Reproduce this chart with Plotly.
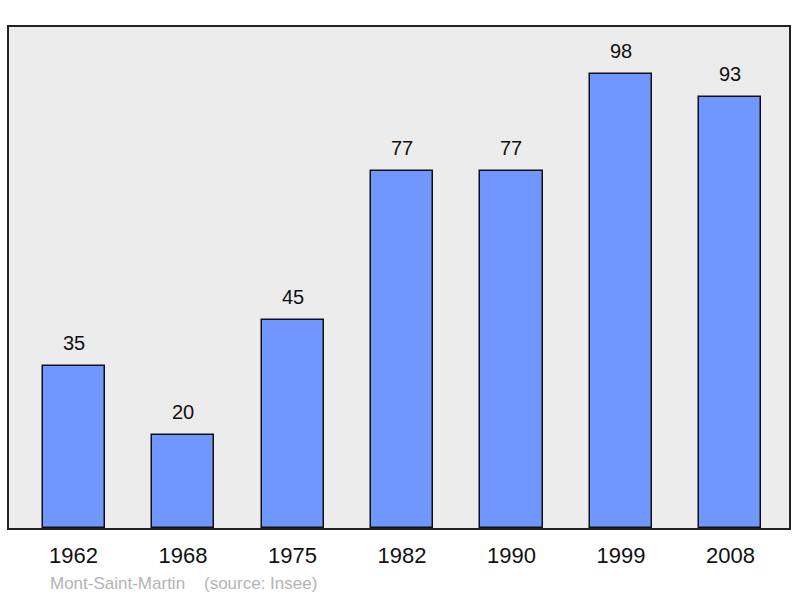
import plotly.graph_objects as go

years = ["1962", "1968", "1975", "1982", "1990", "1999", "2008"]
population = [35, 20, 45, 77, 77, 98, 93]
footer_text = "Mont-Saint-Martin\u00a0\u00a0\u00a0\u00a0(source: Insee)"

FONT = "Liberation Sans, Arial"

fig = go.Figure()
fig.add_trace(go.Bar(
    x=years, y=population, width=0.567,
    marker=dict(color="#7097ff", line=dict(color="#111111", width=1.5)),
    hoverinfo="skip",
))
for i, v in enumerate(population):
    fig.add_annotation(x=i, y=v, text=str(v), showarrow=False, yanchor="bottom",
                       yshift=10, font=dict(family=FONT, size=20, color="#111"))

fig.add_annotation(xref="paper", yref="paper", x=(48-9)/782, y=-(583-528)/501, text=footer_text,
                   showarrow=False, xanchor="left", yanchor="middle",
                   font=dict(family=FONT, size=17, color="#b4b4b4"))

fig.update_layout(
    width=800, height=598,
    margin=dict(l=9, r=9, t=27, b=70),
    paper_bgcolor="white", plot_bgcolor="#ececec",
    showlegend=False,
    bargap=0,
    font=dict(family=FONT, color="#111"),
)
fig.update_xaxes(type="category", range=[-0.59, 6.535], showgrid=False, zeroline=False,
                 showline=True, linecolor="#222", linewidth=2, mirror=True,
                 ticks="", ticklabelstandoff=7, tickfont=dict(size=22, color="#111"))
fig.update_yaxes(range=[0, 108.2], showgrid=False, zeroline=False, showticklabels=False,
                 showline=True, linecolor="#222", linewidth=2, mirror=True, ticks="")

fig.write_html("out.html", config={"displayModeBar": False},
               post_script="document.body.style.margin='0';")
